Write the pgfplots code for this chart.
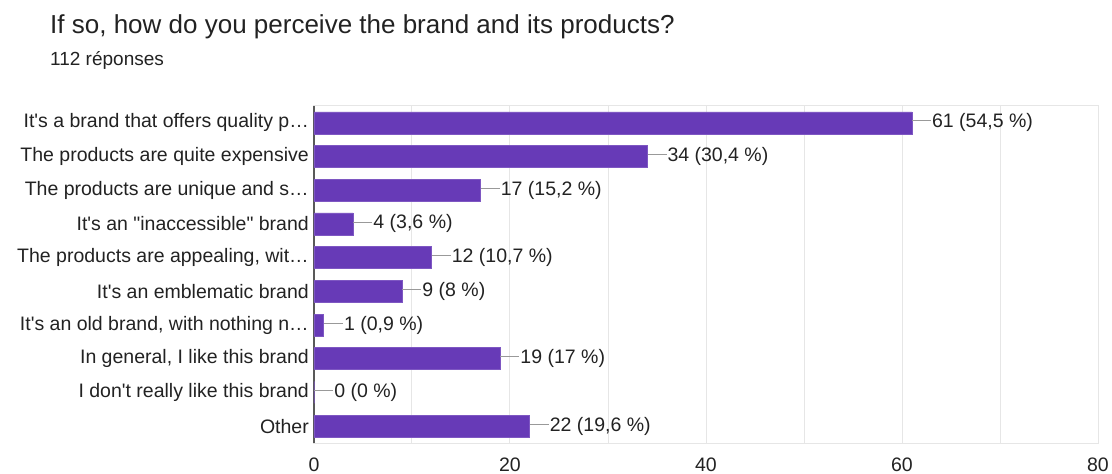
\documentclass[border=0pt]{standalone}
\usepackage{pgfplots}
\pgfplotsset{compat=1.18}
\usepackage{fontspec}
\setmainfont{Liberation Sans}
\definecolor{barpurple}{HTML}{673AB7}
\definecolor{baredge}{HTML}{7E57C2}
\definecolor{txt}{HTML}{222222}
\definecolor{gridc}{HTML}{E6E6E6}
\newcommand\ap{\textquotesingle}
\newcommand\dq{\textquotedbl}
\begin{document}
\begin{tikzpicture}[x=1pt,y=1pt]
\useasboundingbox (0,0) rectangle (1112,474);
\node[anchor=base west, inner sep=0, text=txt, font=\fontsize{26}{30}\selectfont] at (50,440) {If so, how do you perceive the brand and its products?};
\node[anchor=base west, inner sep=0, text=txt, font=\fontsize{19}{22}\selectfont] at (50,408) {112 réponses};
\begin{axis}[
  at={(314pt,31pt)}, anchor=south west,
  scale only axis, width=784pt, height=337pt,
  xbar, bar width=22pt,
  xmin=0, xmax=80,
  ymin=-0.5, ymax=9.5, y dir=reverse,
  xtick={0,20,40,60,80},
  minor xtick={10,30,50,70},
  grid=both,
  major grid style={gridc, line width=1pt},
  minor grid style={gridc, line width=1pt},
  axis line style={gridc, line width=1pt},
  major tick length=0pt, minor tick length=0pt,
  ytick={0,1,...,9},
  yticklabels={It\ap s a brand that offers quality p…,The products are quite expensive,The products are unique and s…,It\ap s an \dq inaccessible\dq\ brand,{The products are appealing, wit…},It\ap s an emblematic brand,{It\ap s an old brand, with nothing n…},{In general, I like this brand},I don\ap t really like this brand,Other},
  ymajorgrids=false, yminorgrids=false,
  yticklabel style={anchor=east, inner sep=0pt, xshift=-5pt, text=txt, font=\fontsize{19.5}{22}\selectfont},
  xticklabel style={anchor=north, inner sep=0pt, yshift=-15pt, text=txt, font=\fontsize{19.5}{22}\selectfont},
  /pgf/number format/assume math mode=true,
  extra x ticks={0}, extra x tick labels={},
  extra x tick style={grid=major, major grid style={black!65, line width=1.5pt}},
  point meta=explicit symbolic,
  nodes near coords={\textcolor{black!40}{\rule[0.33em]{19pt}{1pt}}\hspace{1pt}\pgfplotspointmeta},
  nodes near coords align={horizontal},
  every node near coord/.append style={anchor=west, inner sep=0pt, xshift=0pt, text=txt, font=\fontsize{19.5}{22}\selectfont},
]
\addplot[fill=barpurple, draw=baredge, line width=0.6pt] coordinates {
 (61,0) [61 (54,5 \%)]
 (34,1) [34 (30,4 \%)]
 (17,2) [17 (15,2 \%)]
 (4,3) [4 (3,6 \%)]
 (12,4) [12 (10,7 \%)]
 (9,5) [9 (8 \%)]
 (1,6) [1 (0,9 \%)]
 (19,7) [19 (17 \%)]
 (0,8) [0 (0 \%)]
 (22,9) [22 (19,6 \%)]
};
\end{axis}
\end{tikzpicture}
\end{document}
